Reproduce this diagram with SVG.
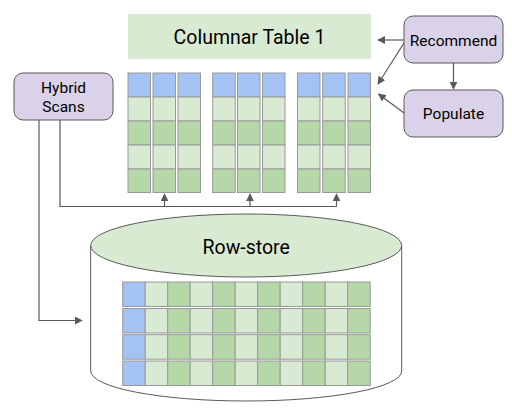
<svg xmlns="http://www.w3.org/2000/svg" width="512" height="415" viewBox="0 0 512 415">
<defs>
<marker id="ah" viewBox="0 0 10 10" refX="9" refY="5" markerWidth="8" markerHeight="8" markerUnits="userSpaceOnUse" orient="auto">
<path d="M0,0 L10,5 L0,10 z" fill="#595959"/>
</marker>
<g id="col">
<rect x="0" y="0" width="22.5" height="24" class="b"/>
<rect x="0" y="24" width="22.5" height="24" class="l"/>
<rect x="0" y="48" width="22.5" height="24" class="d"/>
<rect x="0" y="72" width="22.5" height="24" class="l"/>
<rect x="0" y="96" width="22.5" height="23.5" class="d"/>
</g>
<g id="row">
<rect x="0" y="0" width="22.5" height="24.5" class="b"/>
<rect x="22.5" y="0" width="22.5" height="24.5" class="l"/>
<rect x="45" y="0" width="22.5" height="24.5" class="d"/>
<rect x="67.5" y="0" width="22.5" height="24.5" class="l"/>
<rect x="90" y="0" width="22.5" height="24.5" class="d"/>
<rect x="112.5" y="0" width="22.5" height="24.5" class="l"/>
<rect x="135" y="0" width="22.5" height="24.5" class="d"/>
<rect x="157.5" y="0" width="22.5" height="24.5" class="l"/>
<rect x="180" y="0" width="22.5" height="24.5" class="d"/>
<rect x="202.5" y="0" width="22.5" height="24.5" class="l"/>
<rect x="225" y="0" width="22.5" height="24.5" class="d"/>
</g>
</defs>
<style>
.b{fill:#a4c2f4;stroke:#999;stroke-width:1}
.l{fill:#d9ead3;stroke:#999;stroke-width:1}
.d{fill:#b6d7a8;stroke:#999;stroke-width:1}
.box{fill:#d9d2e9;stroke:#595959;stroke-width:1}
.t{font-family:Roboto,"Liberation Sans",sans-serif;fill:#000;text-anchor:middle}
.c{fill:none;stroke:#595959;stroke-width:1.2}
</style>
<rect width="512" height="415" fill="#fff"/>

<g id="columnar-table">
<rect x="128" y="14" width="243" height="45" fill="#d9ead3"/>
<text class="t" x="249.5" y="43.5" font-size="19.5">Columnar Table 1</text>
</g>

<g id="columns">
<use href="#col" x="128" y="73"/>
<use href="#col" x="153" y="73"/>
<use href="#col" x="178" y="73"/>
<use href="#col" x="212.7" y="73"/>
<use href="#col" x="237.5" y="73"/>
<use href="#col" x="262.5" y="73"/>
<use href="#col" x="297.5" y="73"/>
<use href="#col" x="322.7" y="73"/>
<use href="#col" x="348" y="73"/>
</g>

<g id="recommend">
<rect class="box" x="404" y="16" width="99" height="47" rx="9"/>
<text class="t" x="453.5" y="45.5" font-size="15.5">Recommend</text>
</g>

<g id="populate">
<rect class="box" x="404" y="90" width="99" height="47" rx="9"/>
<text class="t" x="453.5" y="119" font-size="15.5">Populate</text>
</g>

<g id="hybrid-scans">
<rect class="box" x="14" y="73" width="99" height="47" rx="9"/>
<text class="t" x="63.5" y="92.5" font-size="15.5">Hybrid</text>
<text class="t" x="63.5" y="112" font-size="15.5">Scans</text>
</g>

<g id="row-store">
<path d="M90.7,245.5 L90.7,371 A155.5,30 0 0 0 401.7,371 L401.7,245.5" fill="#fff" stroke="#595959" stroke-width="1"/>
<ellipse cx="246.2" cy="245.5" rx="155.5" ry="31.5" fill="#d9ead3" stroke="#595959" stroke-width="1"/>
<text class="t" x="246.2" y="253.5" font-size="19.5">Row-store</text>
<use href="#row" x="122.7" y="282"/>
<use href="#row" x="122.7" y="308.5"/>
<use href="#row" x="122.7" y="334.7"/>
<use href="#row" x="122.7" y="361"/>
</g>

<g id="connectors">
<line class="c" x1="404" y1="40" x2="378" y2="40" marker-end="url(#ah)"/>
<line class="c" x1="404" y1="43" x2="378" y2="84" marker-end="url(#ah)"/>
<line class="c" x1="453.5" y1="63" x2="453.5" y2="89" marker-end="url(#ah)"/>
<line class="c" x1="404" y1="113" x2="378.5" y2="94" marker-end="url(#ah)"/>
<polyline class="c" points="39,120 39,320.5 82,320.5" marker-end="url(#ah)"/>
<polyline class="c" points="60,120 60,206.5 336.5,206.5"/>
<line class="c" x1="164.5" y1="206.5" x2="164.5" y2="194" marker-end="url(#ah)"/>
<line class="c" x1="250" y1="206.5" x2="250" y2="194" marker-end="url(#ah)"/>
<line class="c" x1="336.5" y1="206.5" x2="336.5" y2="194" marker-end="url(#ah)"/>
</g>
</svg>
